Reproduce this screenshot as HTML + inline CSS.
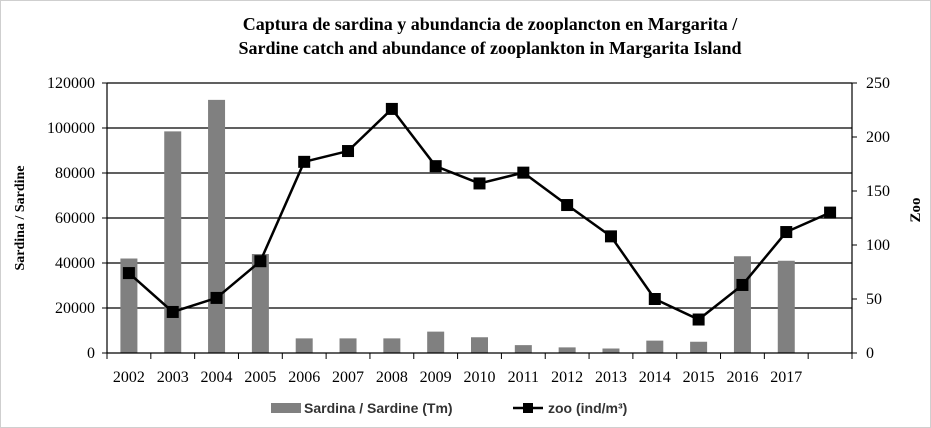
<!DOCTYPE html>
<html><head><meta charset="utf-8"><style>
html,body{margin:0;padding:0;background:#fff;}
svg{display:block;font-family:"Liberation Serif",serif;}
</style></head><body>
<svg id="chart" width="931" height="428" viewBox="0 0 931 428">
<rect x="0.5" y="0.5" width="930" height="427" fill="#fff" stroke="#cfcfcf"/>
<text x="490" y="30" text-anchor="middle" font-size="18" font-weight="bold">Captura de sardina y abundancia de zooplancton en Margarita /</text>
<text x="490" y="54" text-anchor="middle" font-size="18" font-weight="bold">Sardine catch and abundance of zooplankton in Margarita Island</text>
<text transform="translate(24,218) rotate(-90)" text-anchor="middle" font-size="14" font-weight="bold">Sardina / Sardine</text>
<text transform="translate(920,210) rotate(-90)" text-anchor="middle" font-size="15" font-weight="bold">Zoo</text>
<g id="grid"></g><g id="bars"></g><g id="axes"></g><g id="line"></g>
<g>
<rect x="271" y="403" width="30" height="10" fill="#808080"/>
<text x="304" y="413" font-size="14" font-family="Liberation Sans, sans-serif" font-weight="bold" fill="#333">Sardina / Sardine (Tm)</text>
<line x1="513" y1="408" x2="543" y2="408" stroke="#000" stroke-width="2.5"/>
<rect x="523" y="403" width="10" height="10" fill="#000"/>
<text x="548" y="413" font-size="14" font-family="Liberation Sans, sans-serif" font-weight="bold" fill="#333">zoo (ind/m³)</text>
</g>
</svg>
<script>
const categories=["2002","2003","2004","2005","2006","2007","2008","2009","2010","2011","2012","2013","2014","2015","2016","2017",""];
const sardine=[42000,98500,112500,44000,6500,6500,6500,9500,7000,3500,2500,2000,5500,5000,43000,41000,null];
const zoo=[74,38,51,85,177,187,226,173,157,167,137,108,50,31,63,112,130];
const leftTicks=[0,20000,40000,60000,80000,100000,120000];
const rightTicks=[0,50,100,150,200,250];
const NS="http://www.w3.org/2000/svg";
const L=107,R=852,T=83,B=353;
const bw=(R-L)/categories.length;
const xc=i=>L+bw*(i+0.5);
const yL=v=>B-(v/120000)*(B-T);
const yR=v=>B-(v/250)*(B-T);
function mk(p,tag,a){const e=document.createElementNS(NS,tag);for(const k in a)e.setAttribute(k,a[k]);p.appendChild(e);return e;}
const grid=document.getElementById('grid'),bars=document.getElementById('bars'),axes=document.getElementById('axes'),line=document.getElementById('line');
leftTicks.forEach(v=>{
 const y=yL(v);
 if(v>0){const g=mk(grid,'line',{x1:L,x2:R,y1:y,y2:y,stroke:'#000','stroke-width':1.2});
 
 }
 const t=mk(axes,'text',{x:L-12,y:y+5,'text-anchor':'end','font-size':16});t.textContent=v;
 
 
 mk(axes,'line',{x1:L-5,x2:L,y1:y,y2:y,stroke:'#000'});
});
rightTicks.forEach(v=>{
 const y=yR(v);
 const t=mk(axes,'text',{x:R+14,y:y+5,'font-size':16});t.textContent=v;
 
 
 mk(axes,'line',{x1:R,x2:R+5,y1:y,y2:y,stroke:'#000'});
});
const ax=mk(axes,'path',{d:`M${L},${T}V${B}H${R}V${T}`,fill:'none',stroke:'#000','stroke-width':1.2});


for(let i=0;i<=categories.length;i++){const x=L+bw*i;mk(axes,'line',{x1:x,x2:x,y1:B,y2:B+6,stroke:'#000'});}
categories.forEach((c,i)=>{
 if(c){const t=mk(axes,'text',{x:xc(i),y:B+29,'text-anchor':'middle','font-size':16});t.textContent=c;
 
 }
 if(sardine[i]!=null){const r=mk(bars,'rect',{x:xc(i)-8.5,y:yL(sardine[i]),width:17,height:B-yL(sardine[i]),fill:'#808080'});
 
 }
});
const pl=mk(line,'polyline',{points:zoo.map((v,i)=>xc(i)+','+yR(v)).join(' '),fill:'none',stroke:'#000','stroke-width':2.5});


zoo.forEach((v,i)=>{const m=mk(line,'rect',{x:xc(i)-6,y:yR(v)-6,width:12,height:12,fill:'#000'});
 
 });
</script>
</body></html>
